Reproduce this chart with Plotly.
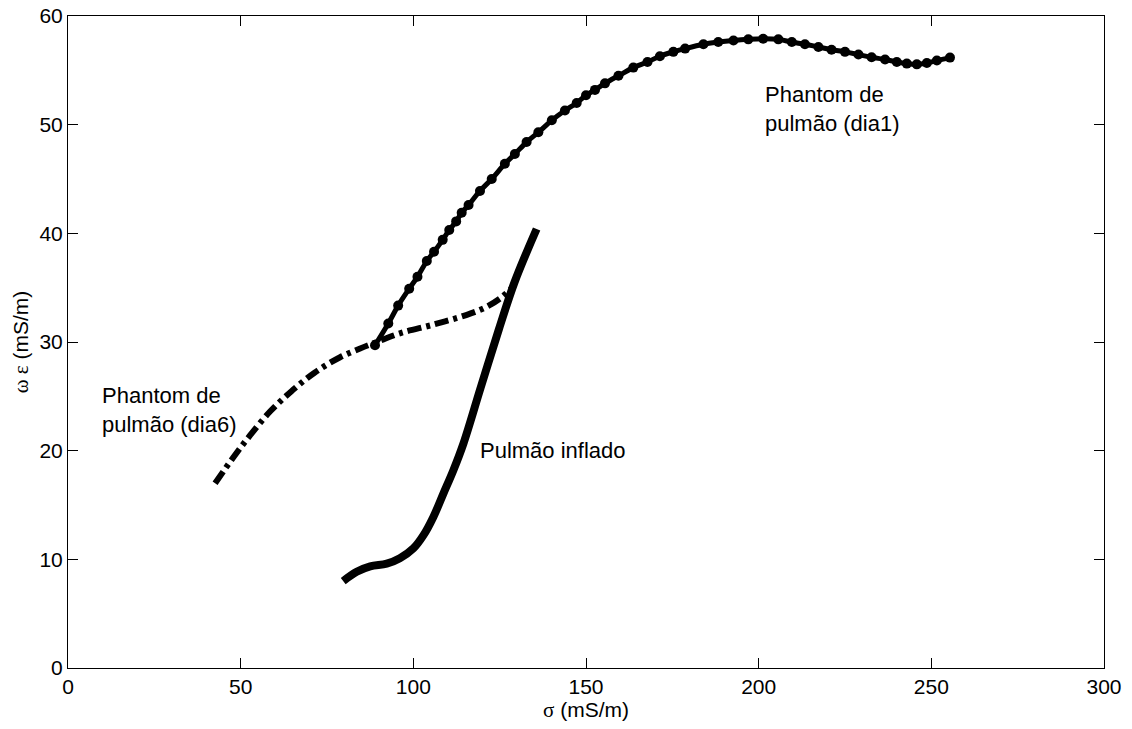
import plotly.graph_objects as go

# Phantom de pulmão (dia1) - solid line with dots
dia1_sigma = [88.9, 92.75, 95.6, 98.8, 101.2, 103.9, 106.0, 108.5, 110.4, 112.4, 114.0, 116.0,
              119.3, 122.7, 126.5, 129.4, 132.8, 136.2, 140.1, 143.9, 147.3, 150.0, 152.6, 155.5,
              159.4, 163.7, 167.8, 171.4, 175.3, 178.7, 184.0, 188.3, 192.7, 197.0, 201.3, 205.7,
              209.6, 213.4, 217.3, 221.1, 225.0, 228.9, 232.7, 236.6, 240.0, 242.9, 245.8, 248.7,
              251.6, 255.4]
dia1_we = [29.7, 31.7, 33.35, 34.9, 36.0, 37.45, 38.3, 39.4, 40.3, 41.1, 41.9, 42.6,
           43.9, 45.0, 46.4, 47.3, 48.4, 49.3, 50.4, 51.3, 52.0, 52.7, 53.2, 53.8,
           54.5, 55.25, 55.77, 56.3, 56.7, 57.0, 57.4, 57.6, 57.75, 57.85, 57.9, 57.85,
           57.6, 57.4, 57.15, 56.9, 56.7, 56.45, 56.2, 56.0, 55.77, 55.62, 55.55, 55.67,
           55.9, 56.17]

# Phantom de pulmão (dia6) - dash-dot line
dia6_sigma = [42.6, 47.9, 52.7, 58.5, 64.8, 71.5, 78.8, 84.6, 89.4, 96.1, 105.8, 115.5, 121.0, 125.1, 128.3]
dia6_we = [17.0, 19.4, 21.4, 23.6, 25.5, 27.2, 28.6, 29.4, 30.0, 30.8, 31.6, 32.5, 33.2, 34.0, 34.9]

# Pulmão inflado - thick solid line
infl_sigma = [79.7, 83.6, 87.5, 92.3, 96.1, 100.0, 102.9, 105.8, 108.7, 111.6, 114.5, 119.5, 124.8, 129.3, 135.7]
infl_we = [8.0, 8.85, 9.35, 9.6, 10.1, 11.0, 12.2, 13.9, 16.05, 18.2, 20.65, 25.8, 31.2, 35.5, 40.4]

fig = go.Figure()
fig.add_trace(go.Scatter(x=dia6_sigma, y=dia6_we, mode="lines", line_shape="spline",
                         line=dict(color="black", width=6, dash="14px,5px,4px,5px")))
fig.add_trace(go.Scatter(x=infl_sigma, y=infl_we, mode="lines", line_shape="spline",
                         line=dict(color="black", width=8)))
fig.add_trace(go.Scatter(x=dia1_sigma, y=dia1_we, mode="lines+markers", line_shape="spline",
                         line=dict(color="black", width=5),
                         marker=dict(color="black", size=10)))

txt = dict(family="Liberation Sans, Arial", size=22, color="black")
tickf = dict(family="Liberation Sans, Arial", size=21, color="black")
fig.add_annotation(x=201.3, y=51.4, text="Phantom de<br>pulmão (dia1)", showarrow=False,
                   xanchor="left", align="left", font=txt)
fig.add_annotation(x=9.3, y=23.7, text="Phantom de<br>pulmão (dia6)", showarrow=False,
                   xanchor="left", align="left", font=txt)
fig.add_annotation(x=118.8, y=20.0, text="Pulmão inflado", showarrow=False,
                   xanchor="left", font=txt)

axis = dict(showgrid=False, zeroline=False, showline=True, linecolor="black", linewidth=1,
            mirror="ticks", ticks="inside", ticklen=10, tickcolor="black",
            tickfont=tickf, automargin=False)
fig.update_xaxes(axis, range=[0, 300], dtick=50,
                 title=dict(text="<span style='font-family:Liberation Serif'>σ</span> (mS/m)",
                            font=tickf, standoff=2))
fig.update_yaxes(axis, range=[0, 60], dtick=10,
                 title=dict(text="<span style='font-family:Liberation Serif'>ω ε</span> (mS/m)",
                            font=tickf, standoff=5))
fig.update_layout(width=1132, height=729, showlegend=False,
                  plot_bgcolor="white", paper_bgcolor="white",
                  margin=dict(l=68, r=28, t=16, b=61))
# drop the default page margin so the figure sits at the window corner
fig.write_html("out.html", config={"displayModeBar": False},
               post_script="document.body.style.margin='0';")
